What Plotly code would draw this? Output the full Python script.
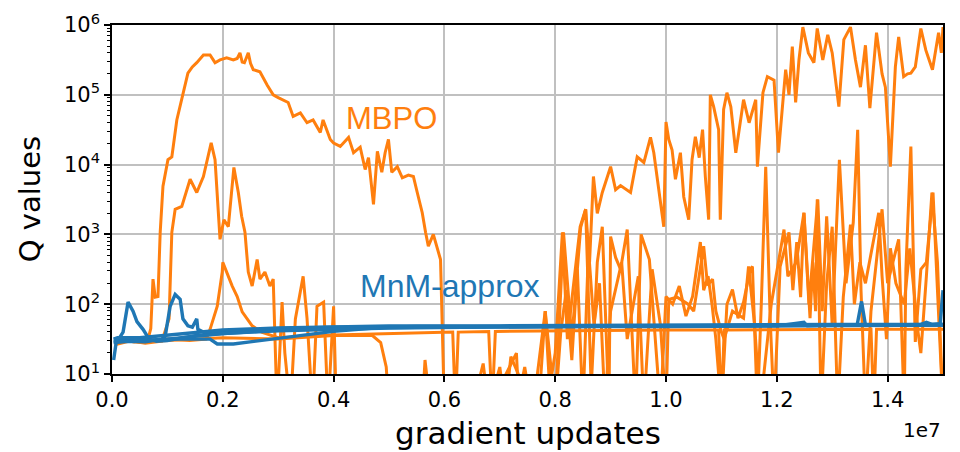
import plotly.graph_objects as go
import numpy as np

ORANGE = "#ff7f0e"
BLUE = "#1f77b4"

# x in units of 1e7 gradient updates; q given as log10(Q value)
mbpo_a_x = [0.005,0.02,0.04,0.055,0.065,0.07,0.074,0.078,0.083,0.087,0.092,0.101,0.108,0.117,0.128,0.137,0.145,0.153,0.165,0.177,0.186,0.195,0.207,0.219,0.226,0.231,0.235,0.239,0.246,0.25,0.255,0.267,0.28,0.291,0.3,0.307,0.318,0.327,0.34,0.352,0.363,0.376,0.381,0.394,0.4,0.412,0.427,0.436,0.448,0.457,0.463,0.472,0.479,0.487,0.493,0.499,0.505,0.515,0.524,0.535,0.544,0.551,0.56,0.566,0.571,0.58,0.585,0.593,0.6,0.66,0.70,0.73,0.745,0.755,0.77,0.782,0.79,0.80,0.813,0.822,0.832,0.845,0.855,0.862,0.869,
             0.876,0.885,0.9,0.909,0.918,0.936,0.948,0.96,0.972,0.978,0.984,0.99,0.996,1.0,1.005,1.011,1.017,1.026,1.032,1.041,1.047,1.053,1.06,1.066,1.071,1.077,1.08,1.086,1.095,1.098,1.104,1.11,1.117,1.126,1.14,1.15,1.162,1.165,1.175,1.183,1.195,1.203,1.21,1.216,1.222,1.228,1.234,1.24,1.247,1.257,1.267,1.273,1.283,1.292,1.3,1.312,1.321,1.333,1.342,1.351,1.36,1.368,1.38,1.39,1.396,1.405,1.414,1.42,1.429,1.436,1.442,1.45,1.46,1.469,1.475,1.481,1.492,1.497,1.5]
mbpo_a_logq = [1.5,1.49,1.46,1.48,1.5,1.65,2.36,2.1,2.11,3.03,3.69,4.07,4.11,4.64,5.03,5.31,5.4,5.46,5.57,5.57,5.46,5.5,5.53,5.5,5.52,5.6,5.47,5.46,5.6,5.45,5.36,5.33,5.14,5.0,4.96,4.93,4.89,4.69,4.74,4.6,4.64,4.46,4.64,4.36,4.31,4.26,4.39,4.17,4.25,3.93,4.1,3.43,4.19,3.89,4.17,4.36,3.89,3.97,3.81,3.85,3.83,3.6,3.31,3.03,2.83,3.0,2.85,2.64,0.5,0.5,0.5,0.5,1.1,0.6,0.5,1.9,0.8,1.3,3.03,1.5,2.2,3.11,3.36,2.6,3.83,
               3.3,3.6,3.97,3.64,3.7,3.6,4.11,4.03,4.39,4.17,3.83,3.5,3.11,4.61,4.36,4.21,3.79,4.17,3.54,3.21,4.07,4.4,4.1,4.5,3.83,3.21,5.0,4.83,4.5,3.21,4.79,5.03,4.83,4.17,4.93,4.6,4.93,3.97,5.03,5.26,5.21,4.17,4.8,5.36,5.0,5.69,4.89,5.5,5.97,5.6,5.46,5.95,5.5,5.86,5.6,4.83,5.79,5.97,5.5,5.11,5.71,4.81,5.89,5.3,5.11,3.97,5.4,5.83,5.26,5.3,5.31,5.4,5.95,5.64,5.5,5.36,5.89,5.6,5.97]

mbpo_b_x = [0.005,0.03,0.06,0.09,0.103,0.108,0.114,0.126,0.141,0.153,0.165,0.179,0.186,0.195,0.202,0.21,0.22,0.228,0.234,0.24,0.246,0.253,0.262,0.267,0.276,0.285,0.291,0.298,0.307,0.312,0.322,0.331,0.345,0.352,0.362,0.37,0.382,0.39,0.4,0.405,0.43,0.47,0.52,0.56,0.565,0.575,0.62,0.68,0.7,0.71,0.72,0.76,0.782,0.79,0.8,0.815,0.83,0.846,0.855,0.865,0.876,0.885,0.897,0.9,0.909,0.918,0.93,0.945,0.955,0.97,0.983,0.99,1.0,1.012,1.024,1.036,1.048,1.062,1.068,1.076,1.083,1.09,1.1,1.11,1.12,1.13,1.14,1.152,1.156,1.165,1.172,1.18,1.188,1.195,1.206,1.222,1.229,1.236,1.243,1.249,1.258,1.274,1.282,1.29,1.3,1.313,1.325,1.338,1.346,1.352,1.36,1.37,1.39,1.4,1.42,1.43,1.433,1.442,1.45,1.46,1.47,1.482,1.49,1.5]
mbpo_b_logq = [1.45,1.48,1.44,1.47,1.79,3.03,3.36,3.4,3.79,3.6,3.83,4.31,4.07,2.93,3.21,3.11,3.96,3.6,3.26,3.03,2.46,2.26,2.64,2.36,2.46,2.26,2.36,0.5,2.03,1.3,0.5,1.79,2.4,1.8,0.5,1.97,2.03,0.5,1.97,0.5,0.5,0.5,0.5,0.5,1.2,0.5,0.5,0.5,1.1,0.5,1.25,0.5,1.9,1.3,0.5,3.03,1.5,3.1,3.36,0.8,2.6,3.11,0.5,2.97,2.67,2.5,3.07,0.5,3.0,2.64,1.3,0.5,2.11,2.0,2.26,1.83,2.11,2.89,2.2,2.4,2.0,1.5,0.5,2.0,2.21,1.8,2.03,2.5,2.54,0.5,2.0,3.97,1.8,0.5,2.54,3.03,2.2,2.89,2.1,3.31,2.0,3.5,1.9,3.26,1.7,4.07,2.3,3.17,4.5,2.2,0.5,1.9,3.36,2.3,2.93,0.5,2.5,4.26,1.46,2.5,2.6,3.6,2.2,0.5]

mbpo_c_x = [0.005,0.03,0.06,0.1,0.14,0.17,0.177,0.19,0.199,0.2,0.207,0.217,0.226,0.235,0.244,0.253,0.27,0.3,0.4,0.5,0.6,0.615,0.62,0.625,0.68,0.686,0.692,0.8,0.9,1.0,1.095,1.1,1.105,1.2,1.3,1.37,1.375,1.38,1.45,1.5]
mbpo_c_logq = [1.42,1.47,1.45,1.5,1.48,1.5,1.64,1.97,2.46,2.6,2.46,2.26,2.11,1.89,1.79,1.69,1.6,1.52,1.56,1.58,1.6,1.6,0.5,1.6,1.61,0.5,1.61,1.62,1.62,1.63,1.63,0.5,1.63,1.63,1.64,1.64,0.5,1.64,1.64,1.64]

mbpo_e_x = [0.005,0.05,0.1,0.2,0.3,0.4,0.47,0.485,0.495,0.5,0.55,0.6,0.65,0.67,0.68,0.73,0.735,0.8,0.81,0.82,0.83,0.84,0.85,0.86,0.87,0.88,0.89,0.9,0.92,0.93,0.95,0.96,0.975,0.99,1.0,1.005,1.02,1.04,1.05,1.068,1.075,1.084,1.09,1.1,1.105,1.12,1.14,1.149,1.16,1.17,1.19,1.213,1.22,1.235,1.249,1.26,1.265,1.27,1.273,1.28,1.29,1.3,1.31,1.32,1.333,1.34,1.35,1.36,1.384,1.39,1.398,1.405,1.415,1.43,1.44,1.455,1.46,1.47,1.48,1.49,1.5]
mbpo_e_logq = [1.5,1.46,1.48,1.52,1.5,1.55,1.55,1.45,1.1,0.5,0.5,0.5,0.5,1.15,0.5,1.3,0.5,0.5,1.6,2.2,1.2,2.5,0.5,2.8,1.7,2.3,0.5,1.9,2.6,1.5,2.4,0.5,2.5,1.7,0.5,2.07,2.1,2.0,1.9,2.83,2.27,2.36,1.9,1.6,1.5,1.9,1.8,2.54,1.7,0.5,2.0,3.07,2.4,2.6,3.31,1.8,2.6,1.9,3.5,0.5,2.3,3.11,0.5,2.1,3.14,2.0,2.6,2.3,3.31,2.4,1.5,2.8,2.3,2.0,2.8,1.6,1.3,2.4,3.6,2.6,0.5]

mnm_a_x = [0.003,0.008,0.012,0.02,0.029,0.034,0.038,0.045,0.056,0.067,0.08,0.1,0.15,0.2,0.3,0.4,0.5,0.6,0.7,0.8,0.9,1.0,1.1,1.2,1.3,1.4,1.5]
mnm_a_logq = [1.2,1.48,1.5,1.6,2.03,1.95,1.9,1.75,1.64,1.5,1.47,1.48,1.55,1.58,1.63,1.66,1.67,1.67,1.68,1.68,1.68,1.69,1.69,1.7,1.7,1.7,1.7]
mnm_b_x = [0.003,0.03,0.06,0.09,0.096,0.105,0.114,0.123,0.128,0.137,0.145,0.153,0.155,0.17,0.2,0.25,0.3,0.4,0.5,0.6,0.8,1.0,1.2,1.249,1.255,1.3,1.4,1.5]
mnm_b_logq = [1.45,1.47,1.46,1.5,1.54,1.97,2.14,2.07,1.79,1.69,1.67,1.79,1.64,1.58,1.6,1.63,1.65,1.67,1.67,1.68,1.68,1.69,1.69,1.74,1.69,1.7,1.7,1.71]
mnm_c_x = [0.003,0.05,0.1,0.15,0.177,0.19,0.219,0.249,0.291,0.34,0.4,0.49,0.55,0.7,0.9,1.1,1.3,1.345,1.353,1.36,1.45,1.5]
mnm_c_logq = [1.5,1.47,1.5,1.5,1.5,1.43,1.43,1.46,1.5,1.55,1.61,1.67,1.68,1.68,1.69,1.69,1.7,1.7,2.04,1.7,1.7,1.71]
mnm_d_x = [0.003,0.01,0.05,0.1,0.15,0.2,0.3,0.4,0.5,0.7,0.9,1.1,1.3,1.46,1.47,1.48,1.495,1.5]
mnm_d_logq = [1.5,1.52,1.52,1.56,1.6,1.63,1.66,1.68,1.69,1.69,1.7,1.7,1.71,1.71,1.74,1.71,1.72,2.2]
mnm_e_x = [0.003,0.05,0.1,0.2,0.3,0.5,0.8,1.0,1.2,1.4,1.5]
mnm_e_logq = [1.46,1.48,1.5,1.58,1.62,1.66,1.68,1.68,1.69,1.69,1.7]

x_ticks = [0.0, 0.2, 0.4, 0.6, 0.8, 1.0, 1.2, 1.4]
y_ticks = [10, 100, 1000, 10000, 100000, 1000000]
y_ticktext = ["10<sup>1</sup>", "10<sup>2</sup>", "10<sup>3</sup>", "10<sup>4</sup>", "10<sup>5</sup>", "10<sup>6</sup>"]

fig = go.Figure()
for xs, ls in [(mbpo_a_x, mbpo_a_logq), (mbpo_b_x, mbpo_b_logq), (mbpo_c_x, mbpo_c_logq), (mbpo_e_x, mbpo_e_logq)]:
    fig.add_trace(go.Scatter(x=xs, y=np.power(10.0, ls), mode="lines",
                             line=dict(color=ORANGE, width=3), showlegend=False))
for xs, ls in [(mnm_a_x, mnm_a_logq), (mnm_b_x, mnm_b_logq), (mnm_c_x, mnm_c_logq), (mnm_d_x, mnm_d_logq), (mnm_e_x, mnm_e_logq)]:
    fig.add_trace(go.Scatter(x=xs, y=np.power(10.0, ls), mode="lines",
                             line=dict(color=BLUE, width=3.4), showlegend=False))

minor_vals = [m * 10 ** d for d in range(1, 6) for m in range(2, 10)]

fig.update_layout(
    width=960, height=452,
    margin=dict(l=104, r=25, t=17, b=86),
    paper_bgcolor="white", plot_bgcolor="white",
    font=dict(family="DejaVu Sans", color="black"),
    xaxis=dict(range=[0, 1.5], tickvals=x_ticks, tickformat=".1f", automargin=False,
               showgrid=True, gridcolor="#c0c0c0", gridwidth=1.5,
               showline=True, linecolor="black", linewidth=1.5, mirror=True,
               ticks="outside", ticklen=6, tickwidth=1.5, tickcolor="black",
               tickfont=dict(size=21), zeroline=False),
    yaxis=dict(type="log", range=[1, 6], tickvals=y_ticks, ticktext=y_ticktext, automargin=False,
               showgrid=True, gridcolor="#c0c0c0", gridwidth=1.5,
               showline=True, linecolor="black", linewidth=1.5, mirror=True,
               ticks="outside", ticklen=6, tickwidth=1.5, tickcolor="black",
               tickfont=dict(size=21), zeroline=False,
               minor=dict(tickvals=minor_vals, ticks="outside", ticklen=3, tickwidth=1, tickcolor="black", showgrid=False)),
    annotations=[
        dict(x=0.504, y=4.66, xref="x", yref="y", text="MBPO", showarrow=False,
             font=dict(family="Liberation Sans", size=31, color=ORANGE)),
        dict(x=0.611, y=2.26, xref="x", yref="y", text="MnM-approx", showarrow=False,
             font=dict(family="Liberation Sans", size=32, color=BLUE)),
        dict(x=1.0, y=-0.16, xref="paper", yref="paper", text="1e7", showarrow=False,
             xanchor="right", yanchor="middle", font=dict(size=20)),
        dict(x=0.5, y=-0.169, xref="paper", yref="paper", text="gradient updates", showarrow=False,
             xanchor="center", yanchor="middle", font=dict(size=31)),
        dict(x=-0.099, y=0.5, xref="paper", yref="paper", text="Q values", showarrow=False,
             textangle=-90, xanchor="center", yanchor="middle", font=dict(size=29)),
    ],
)

fig.write_html("out.html")
